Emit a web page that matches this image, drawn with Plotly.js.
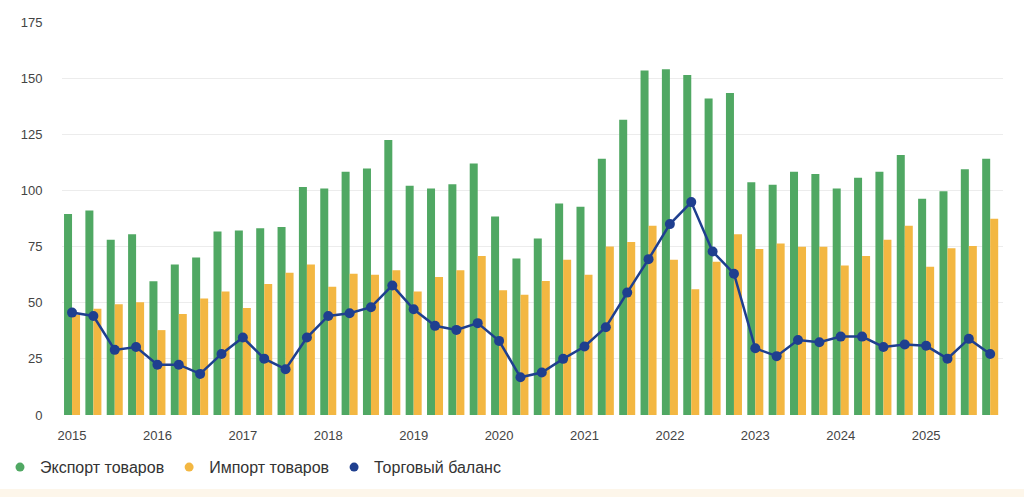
<!DOCTYPE html>
<html>
<head>
<meta charset="utf-8">
<script src="https://cdn.plot.ly/plotly-3.0.1.min.js"></script>
<style>
html,body{margin:0;padding:0;background:#fff;}
#chart{width:1024px;height:497px;}
</style>
</head>
<body>
<div id="chart"></div>
<script>
const years = [2015,2016,2017,2018,2019,2020,2021,2022,2023,2024,2025];
const quarters = [];
years.forEach(y => { for (let q = 1; q <= 4; q++) quarters.push(y + ' Q' + q); });
const tickVals = years.map(y => y + ' Q1');
const tickText = years.map(y => String(y));

const exportGoods = [
  89.5, 91.1, 78.0, 80.5,
  59.6, 67.0, 70.1, 81.7,
  82.2, 83.2, 83.7, 101.5,
  100.9, 108.3, 109.8, 122.5,
  102.1, 100.9, 102.7, 112.0,
  88.4, 69.7, 78.6, 94.2,
  92.7, 114.1, 131.5, 153.4,
  154.0, 151.4, 140.9, 143.4,
  103.6, 102.5, 108.3, 107.3,
  100.9, 105.7, 108.3, 115.8,
  96.3, 99.6, 109.4, 114.1
];
const importGoods = [
  44.6, 47.3, 49.3, 50.2,
  37.8, 45.0, 51.9, 55.0,
  47.7, 58.3, 63.3, 67.0,
  57.1, 62.9, 62.4, 64.5,
  55.0, 61.4, 64.5, 70.8,
  55.6, 53.5, 59.7, 69.1,
  62.4, 75.0, 77.0, 84.3,
  69.1, 56.0, 68.2, 80.5,
  73.9, 76.4, 74.9, 74.9,
  66.6, 70.8, 78.0, 84.3,
  66.0, 74.3, 75.3, 87.4
];
const tradeBalance = [
  45.6, 44.1, 29.0, 30.3,
  22.4, 22.4, 18.3, 27.2,
  34.5, 25.1, 20.4, 34.5,
  44.1, 45.3, 48.0, 57.7,
  47.1, 39.7, 37.9, 40.9,
  33.0, 16.8, 18.9, 25.0,
  30.5, 39.1, 54.5, 69.4,
  85.0, 94.8, 72.8, 62.9,
  29.7, 26.2, 33.4, 32.4,
  34.9, 34.9, 30.3, 31.4,
  30.8, 25.1, 33.9, 27.2
];
const seriesNames = ['Экспорт товаров', 'Импорт товаров', 'Торговый баланс'];
const colors = ['#50a863', '#f3b742', '#1f3f8f'];

const traces = [
  {type:'bar', x:quarters, y:exportGoods, name:seriesNames[0], marker:{color:colors[0]}, showlegend:false, hoverinfo:'y'},
  {type:'bar', x:quarters, y:importGoods, name:seriesNames[1], marker:{color:colors[1]}, showlegend:false, hoverinfo:'y'},
  {type:'scatter', mode:'lines+markers', x:quarters, y:tradeBalance, name:seriesNames[2],
   line:{color:colors[2], width:2.5}, marker:{color:colors[2], size:10}, showlegend:false, hoverinfo:'y'}
];
// legend entries (circle dots)
seriesNames.forEach((n, i) => {
  traces.push({type:'scatter', mode:'markers', x:[null], y:[null], name:n,
    marker:{color:colors[i], size:9, symbol:'circle'}, hoverinfo:'skip'});
});

const layout = {
  width:1024, height:497,
  margin:{l:62, r:21, t:22, b:82},
  paper_bgcolor:'#ffffff', plot_bgcolor:'#ffffff',
  font:{family:'Liberation Sans, Arial, sans-serif', color:'#444'},
  barmode:'group', bargap:0.25, bargroupgap:0,
  xaxis:{
    type:'category', categoryorder:'array', categoryarray:quarters,
    tickmode:'array', tickvals:tickVals, ticktext:tickText,
    range:[-0.47, 43.6], automargin:false,
    showgrid:false, zeroline:false, showline:false,
    ticks:'outside', ticklen:8, tickcolor:'rgba(0,0,0,0)',
    tickfont:{size:13, color:'#444'}
  },
  yaxis:{
    range:[0,175], tickvals:[0,25,50,75,100,125,150,175], automargin:false,
    showgrid:true, gridcolor:'#ececec', gridwidth:1,
    zeroline:false, showline:false,
    ticks:'outside', ticklen:16, tickcolor:'rgba(0,0,0,0)',
    tickfont:{size:13, color:'#444'}
  },
  legend:{
    orientation:'h', xref:'container', yref:'container',
    x:0.0, xanchor:'left', y:0.06, yanchor:'middle',
    bgcolor:'rgba(0,0,0,0)',
    font:{size:16, color:'#333'}, itemwidth:30, traceorder:'normal'
  },
  shapes:[{
    type:'rect', xref:'paper', yref:'paper', x0:-0.1, x1:1.1, y0:-0.3, y1:-0.188,
    fillcolor:'#fdf6ea', line:{width:0}, layer:'below'
  }],
  showlegend:true
};

Plotly.newPlot('chart', traces, layout, {displayModeBar:false, staticPlot:true});
</script>
</body>
</html>
